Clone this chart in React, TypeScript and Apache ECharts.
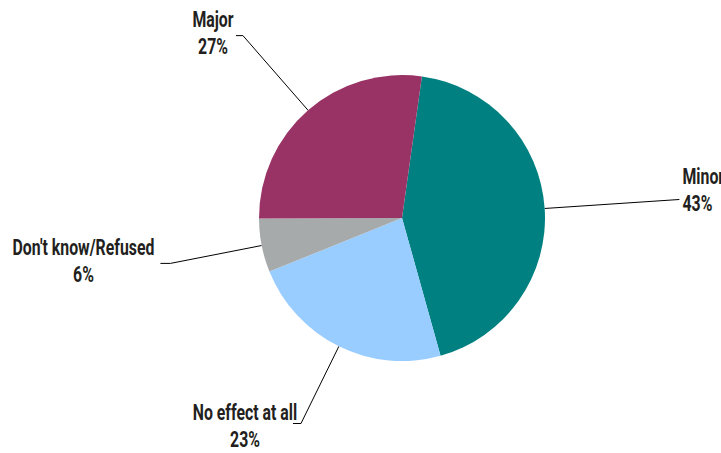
import React, { useEffect, useRef } from 'react';
import * as echarts from 'echarts';

const categories = ['Minor', 'No effect at all', "Don't know/Refused", 'Major'];
const values = [43, 23, 6, 27];
const colors = ['#008080', '#99CCFF', '#A6AAAB', '#993366'];
const lineLengths = [135, 86, 93, 99];
const lineLengths2 = [0, 8, 10, 7];
const labelGaps = [3, 2, 3, 5];
// label text anchors (layout only)
const labelAnchors = [
  [682.5, 190],
  [245, 426.5],
  [83.5, 261],
  [213, 33.5],
];
const labelAligns = ['left', 'center', 'center', 'center'];

const FONT = 'Roboto';
const TEXT_SCALE = 0.72;

export default function App() {
  const ref = useRef<HTMLDivElement>(null);
  useEffect(() => {
    const chart = echarts.init(ref.current!, null, { renderer: 'svg' });
    chart.setOption({
      animation: false,
      graphic: categories.map((name, i) => ({
        type: 'text',
        x: labelAnchors[i][0],
        y: labelAnchors[i][1],
        scaleX: TEXT_SCALE,
        silent: true,
        style: {
          text: `${name}\n${values[i]}%`,
          fontFamily: FONT,
          fontWeight: 'bold',
          fontSize: 22,
          lineHeight: 27,
          fill: '#231F20',
          align: labelAligns[i],
          verticalAlign: 'middle',
          textAlign: labelAligns[i],
          textVerticalAlign: 'middle',
        },
      })),
      series: [
        {
          type: 'pie',
          center: [402, 218],
          radius: 143,
          startAngle: 82,
          clockwise: true,
          avoidLabelOverlap: false,
          emphasis: { disabled: true },
          label: {
            show: true,
            position: 'outside',
            formatter: () => ' ',
            fontSize: 10,
            color: 'rgba(0,0,0,0)',
          },
          labelLine: { show: true, lineStyle: { color: '#000', width: 1 } },
          data: categories.map((name, i) => ({
            name,
            value: values[i],
            itemStyle: { color: colors[i] },
            label: { distanceToLabelLine: labelGaps[i] },
            labelLine: { length: lineLengths[i], length2: lineLengths2[i] },
          })),
        },
      ],
    });
    return () => chart.dispose();
  }, []);
  return (
    <div
      ref={ref}
      style={{ position: 'fixed', left: 0, top: 0, width: 721, height: 453, background: '#fff' }}
    />
  );
}
